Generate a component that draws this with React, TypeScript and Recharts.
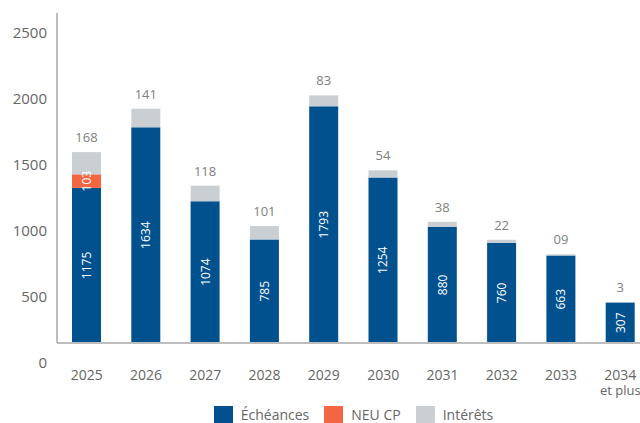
import { BarChart, Bar, XAxis, YAxis, LabelList } from "recharts"

const years = ["2025", "2026", "2027", "2028", "2029", "2030", "2031", "2032", "2033", "2034\net plus"]
const echeances = [1175, 1634, 1074, 785, 1793, 1254, 880, 760, 663, 307]
const neuCp = [103, 0, 0, 0, 0, 0, 0, 0, 0, 0]
const interets = [168, 141, 118, 101, 83, 54, 38, 22, 9, 3]
const interetsLabels = ["168", "141", "118", "101", "83", "54", "38", "22", "09", "3"]
const yTicks = [0, 500, 1000, 1500, 2000, 2500]

const BLUE = "#02518f"
const ORANGE = "#f26641"
const GREY = "#c9cfd2"
const TEXT = "#666666"
const FONT = "'Open Sans', sans-serif"

const data = years.map((year, i) => ({
  year,
  echeances: echeances[i],
  neuCp: neuCp[i],
  interets: interets[i],
  interetsLabel: interetsLabels[i],
}))

const legendItems = [
  { name: "Échéances", color: BLUE },
  { name: "NEU CP", color: ORANGE },
  { name: "Intérêts", color: GREY },
]

const YTick = ({ x, y, payload }: any) => (
  <text x={x} y={y + 19} textAnchor="end" dominantBaseline="central" fill={TEXT} fontSize={15} fontFamily={FONT}>
    {payload.value}
  </text>
)

const XTick = ({ x, y, payload }: any) => {
  const lines = String(payload.value).split("\n")
  return (
    <text x={x} y={y} textAnchor="middle" fill={TEXT} fontSize={14} fontFamily={FONT}>
      {lines.map((line, i) => (
        <tspan key={i} x={x} dy={i === 0 ? 35 : 15} fontSize={i === 0 ? 14 : 13}>
          {line}
        </tspan>
      ))}
    </text>
  )
}

const InnerLabel = (props: any) => {
  const vb = props.viewBox ?? props
  const { x, y, width, height } = vb
  if (!props.value) return null
  const cx = x + width / 2
  const cy = y + height / 2
  return (
    <text
      x={cx}
      y={cy}
      transform={`rotate(-90 ${cx} ${cy})`}
      textAnchor="middle"
      dominantBaseline="central"
      fill="#ffffff"
      fontSize={12}
      fontFamily={FONT}
    >
      {props.value}
    </text>
  )
}

const TopLabel = (props: any) => {
  const vb = props.viewBox ?? props
  const { x, y, width } = vb
  return (
    <text x={x + width / 2} y={y - 15} textAnchor="middle" dominantBaseline="central" fill="#808080" fontSize={13} fontFamily={FONT}>
      {props.value}
    </text>
  )
}

export default function App() {
  return (
    <div style={{ position: "absolute", left: 0, top: 0, width: 640, height: 423, overflow: "hidden", background: "#fff" }}>
      <BarChart
        width={650}
        height={423}
        data={data}
        barSize={29}
        margin={{ top: 13, right: 0, left: 7, bottom: 40 }}
      >
        <XAxis
          dataKey="year"
          tick={<XTick />}
          tickLine={false}
          tickSize={0}
          axisLine={{ stroke: "#bdbdbd", strokeWidth: 2 }}
          height={40}
          interval={0}
        />
        <YAxis
          domain={[0, 2500]}
          ticks={yTicks}
          tick={<YTick />}
          tickLine={false}
          tickSize={0}
          tickMargin={10}
          axisLine={{ stroke: "#bdbdbd", strokeWidth: 2 }}
          width={50}
        />
        <Bar dataKey="echeances" name="Échéances" stackId="a" fill={BLUE} isAnimationActive={false}>
          <LabelList dataKey="echeances" content={<InnerLabel />} />
        </Bar>
        <Bar dataKey="neuCp" name="NEU CP" stackId="a" fill={ORANGE} isAnimationActive={false}>
          <LabelList dataKey="neuCp" content={<InnerLabel />} />
        </Bar>
        <Bar dataKey="interets" name="Intérêts" stackId="a" fill={GREY} isAnimationActive={false}>
          <LabelList dataKey="interetsLabel" content={<TopLabel />} />
        </Bar>
      </BarChart>
      <div
        style={{
          position: "absolute",
          left: 57,
          width: 593,
          top: 405,
          display: "flex",
          justifyContent: "center",
          gap: 15,
          fontFamily: FONT,
          fontSize: 14,
          color: TEXT,
        }}
      >
        {legendItems.map((item) => (
          <div key={item.name} style={{ display: "flex", alignItems: "center", gap: 8 }}>
            <span style={{ display: "inline-block", width: 19, height: 18, background: item.color }} />
            <span>{item.name}</span>
          </div>
        ))}
      </div>
    </div>
  )
}
